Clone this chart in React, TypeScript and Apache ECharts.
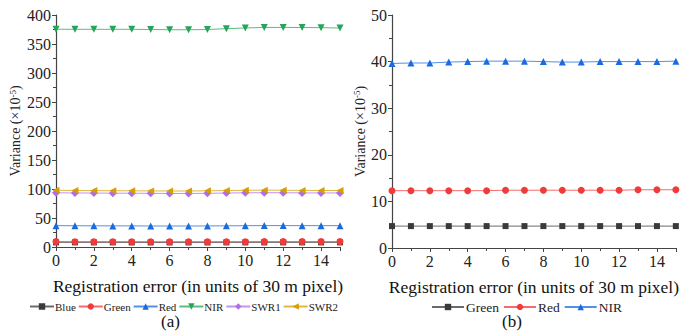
import React, { useEffect, useRef } from "react";
import * as echarts from "echarts";

const xValues = [0, 1, 2, 3, 4, 5, 6, 7, 8, 9, 10, 11, 12, 13, 14, 15];

// Panel (a)
const aBlue = [8.0, 8.0, 8.0, 8.0, 7.9, 7.9, 7.9, 7.9, 7.9, 8.0, 8.0, 8.0, 8.0, 8.0, 8.0, 8.0];
const aGreen = [9.3, 9.2, 9.2, 9.2, 9.2, 9.1, 9.1, 9.1, 9.1, 9.2, 9.2, 9.3, 9.3, 9.3, 9.3, 9.3];
const aRed = [36.8, 36.6, 36.5, 36.4, 36.4, 36.2, 36.2, 36.2, 36.3, 36.5, 36.7, 36.9, 36.9, 36.8, 36.8, 36.8];
const aNIR = [375.5, 375.3, 375.3, 375.3, 375.3, 375.0, 374.6, 374.6, 375.0, 376.4, 377.6, 378.6, 378.6, 378.4, 378.2, 377.5];
const aSWR1 = [93.5, 93.2, 93.0, 92.8, 92.7, 92.5, 92.3, 92.3, 92.6, 93.0, 93.4, 93.6, 93.5, 93.3, 93.2, 93.2];
const aSWR2 = [97.8, 97.4, 97.2, 97.0, 96.9, 96.7, 96.5, 96.6, 96.9, 97.3, 97.8, 98.0, 97.9, 97.6, 97.4, 97.4];

// Panel (b)
const bGreen = [4.7, 4.7, 4.7, 4.7, 4.7, 4.7, 4.7, 4.7, 4.7, 4.7, 4.7, 4.7, 4.7, 4.7, 4.7, 4.7];
const bRed = [12.3, 12.3, 12.3, 12.3, 12.3, 12.3, 12.4, 12.4, 12.4, 12.4, 12.4, 12.4, 12.4, 12.5, 12.5, 12.5];
const bNIR = [39.6, 39.7, 39.7, 39.9, 40.0, 40.1, 40.1, 40.1, 40.0, 39.9, 39.9, 40.0, 40.0, 40.0, 40.0, 40.1];

const xTitle = "Registration error (in units of 30 m pixel)";
const legendA = ["Blue", "Green", "Red", "NIR", "SWR1", "SWR2"];
const legendB = ["Green", "Red", "NIR"];

const FONT = "Liberation Serif";
const AXIS_COLOR = "#444";

export default function App() {
  const ref = useRef<HTMLDivElement>(null);
  useEffect(() => {
    document.body.style.margin = "0";
    const chart = echarts.init(ref.current!, undefined, { renderer: "svg" });

    const pair = (vals: number[]) => xValues.map((x, i) => [x, vals[i]]);

    const xAxis = (gi: number) => ({
      type: "value",
      gridIndex: gi,
      min: 0,
      max: 15,
      interval: 2,
      name: xTitle,
      nameLocation: "middle",
      nameGap: 30,
      nameTextStyle: { fontFamily: FONT, fontSize: 17.5, color: "#111" },
      axisLine: { show: true, lineStyle: { color: AXIS_COLOR, width: 1.2 } },
      axisTick: { show: true, length: 4, lineStyle: { color: AXIS_COLOR } },
      minorTick: { show: true, splitNumber: 2, length: 3, lineStyle: { color: AXIS_COLOR } },
      axisLabel: { fontFamily: FONT, fontSize: 16, color: "#222", margin: 5, showMaxLabel: false },
      splitLine: { show: false },
    });

    const yAxis = (gi: number, max: number, interval: number, gap: number) => ({
      type: "value",
      gridIndex: gi,
      min: 0,
      max,
      interval,
      name: "Variance (×10{sup|-5})",
      nameLocation: "middle",
      nameGap: gap,
      nameRotate: 90,
      nameTextStyle: {
        fontFamily: FONT,
        fontSize: 14,
        color: "#222",
        rich: { sup: { fontFamily: FONT, fontSize: 9, verticalAlign: "top", color: "#222", padding: [0, 0, 6, 0] } },
      },
      axisLine: { show: true, lineStyle: { color: AXIS_COLOR, width: 1.2 } },
      axisTick: { show: true, length: 4, lineStyle: { color: AXIS_COLOR } },
      minorTick: { show: true, splitNumber: 2, length: 3, lineStyle: { color: AXIS_COLOR } },
      axisLabel: { fontFamily: FONT, fontSize: 16, color: "#222", margin: 5 },
      splitLine: { show: false },
    });

    const mk = (name: string, data: number[], color: string, symbol: string, gi: number, rotate = 0, size = 7) => ({
      type: "line",
      name,
      xAxisIndex: gi,
      yAxisIndex: gi,
      data: pair(data),
      symbol,
      symbolSize: size,
      symbolRotate: rotate,
      showAllSymbol: true,
      itemStyle: { color },
      lineStyle: { color, width: 1, opacity: 0.75 },
      clip: false,
    });

    const legendCommon = {
      itemHeight: 8,
      formatter: (n: string) => n.replace(/^b-/, ""),
    };

    chart.setOption({
      animation: false,
      backgroundColor: "#fff",
      textStyle: { fontFamily: FONT },
      grid: [
        { left: 56, right: 342, top: 15, bottom: 85 },
        { left: 392, right: 2, top: 15, bottom: 84 },
      ],
      xAxis: [xAxis(0), xAxis(1)],
      yAxis: [yAxis(0, 400, 50, 33), yAxis(1, 50, 10, 23)],
      legend: [
        {
          ...legendCommon,
          left: 24,
          top: 296,
          itemWidth: 24,
          itemGap: 2,
          textStyle: { fontFamily: FONT, fontSize: 11, color: "#222", padding: [0, 0, 0, -4] },
          data: legendA,
        },
        {
          ...legendCommon,
          left: 426,
          top: 295,
          itemWidth: 32,
          itemGap: 4,
          textStyle: { fontFamily: FONT, fontSize: 13.5, color: "#222", padding: [0, 0, 0, -3] },
          data: legendB.map((n) => "b-" + n),
        },
      ],
      graphic: [
        { type: "text", left: 161, top: 313, style: { text: "(a)", fontFamily: FONT, fontSize: 17, fill: "#111" } },
        { type: "text", left: 502, top: 313, style: { text: "(b)", fontFamily: FONT, fontSize: 17, fill: "#111" } },
      ],
      series: [
        mk("Blue", aBlue, "#3a3a3a", "rect", 0, 0, 6),
        mk("Green", aGreen, "#f03b3b", "circle", 0),
        mk("Red", aRed, "#1a6be0", "triangle", 0),
        mk("NIR", aNIR, "#25a55a", "triangle", 0, 180),
        mk("SWR1", aSWR1, "#b06de6", "diamond", 0, 0, 8),
        mk("SWR2", aSWR2, "#d6a000", "triangle", 0, 90),
        mk("b-Green", bGreen, "#3a3a3a", "rect", 1, 0, 6),
        mk("b-Red", bRed, "#f03b3b", "circle", 1),
        mk("b-NIR", bNIR, "#1a6be0", "triangle", 1),
      ],
    });
    return () => chart.dispose();
  }, []);
  return <div ref={ref} style={{ width: 682, height: 332 }} />;
}
